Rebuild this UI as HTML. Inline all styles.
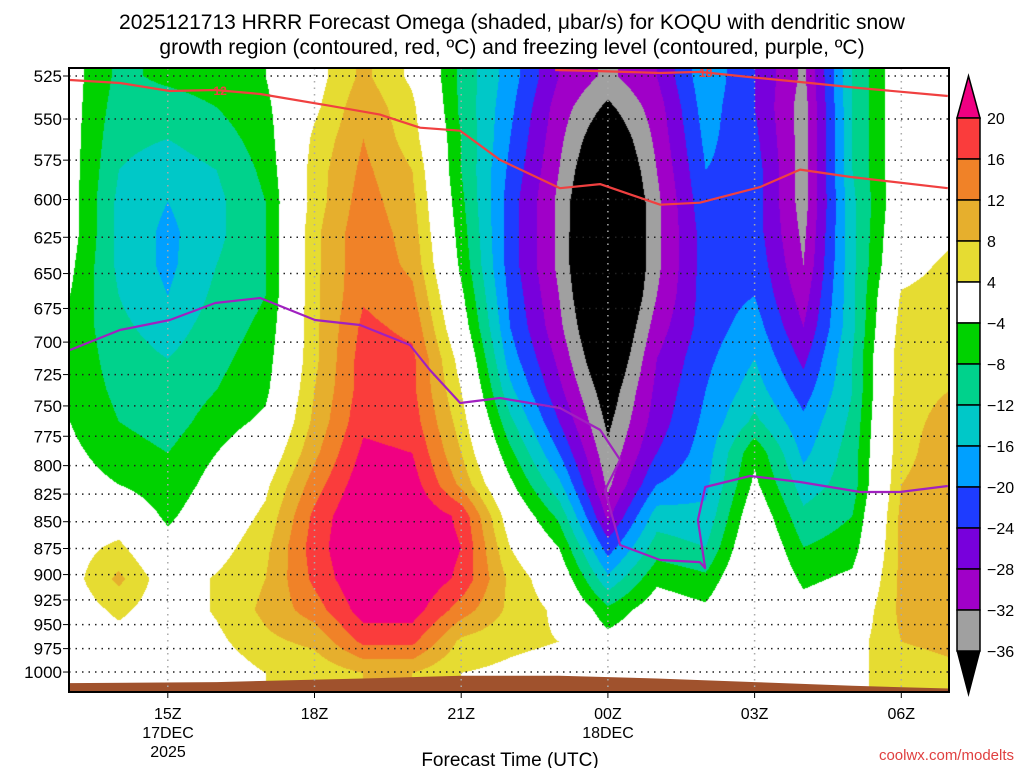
<!DOCTYPE html>
<html><head><meta charset="utf-8"><style>
html,body{margin:0;padding:0;background:#fff;width:1024px;height:768px;overflow:hidden}
#wrap{position:relative;width:1024px;height:768px;font-family:"Liberation Sans",sans-serif}
canvas{position:absolute;left:0;top:0}
svg{position:absolute;left:0;top:0}
</style></head><body>
<div id="wrap">
<canvas id="cv" width="1024" height="768"></canvas>
<svg id="sv" width="1024" height="768"></svg>
</div>
<script>
// ---- data ----
const hours = [13,14,15,16,17,18,19,20,21,22,23,0,1,2,3,4,5,6,7];
const gridPressures = [525,543.1,561.9,581.3,601.4,622.2,643.7,665.9,688.9,712.8,737.4,762.9,789.2,816.5,844.7,873.9,904.1,935.3,967.6,1001];
const tickPressures = [525,550,575,600,625,650,675,700,725,750,775,800,825,850,875,900,925,950,975,1000];
const omegaColumns = [
 [-2,-2,-2,-2,-2,-2,-3,-4,-5,-5,-5,-4,-3,-2,0,2,2,1,0,0],
 [-9,-10,-11,-12,-13,-13,-13,-12,-11,-10,-9,-8,-6,-4,1,5,9,5,2,0],
 [-7,-10,-12,-14,-16,-17,-17,-16,-14,-12,-11,-10,-8,-7,-5,-2,1,1,1,0],
 [-6,-8,-10,-12,-13,-13,-12,-11,-10,-9,-8,-6,-4,-2,0,2,4.5,4.5,3,1],
 [-4,-5,-6,-7,-8,-8,-8,-8,-7,-6,-5,-3,0,3,5,7,8,9,7,4],
 [2,3,5,6,6,7,7,7,7,7,8,9,11,14,17,18,17,14,9,5],
 [9,11,12,13,14,15,15,15.5,17,18,18,19,21,23,25,25,24,22,17,8],
 [3,5,6,8,9,10,11,13,15,17,17,18,20,22,24,24,24,22,17,8],
 [-9,-9,-8,-8,-7,-6,-5,-3,-1,2,4,6,8,11,19,20,19,14,7,4],
 [-18,-19,-20,-21,-22,-22,-22,-21,-20,-18,-15,-11,-7,-3,1,4,7,7,5,3],
 [-28,-30,-31,-32,-33,-33,-33,-32,-31,-29,-27,-24,-20,-15,-9,-4,0,3,4,2],
 [-33,-37,-41,-44,-46,-47,-47,-46,-44,-42,-39,-37,-35,-33,-29,-22,-15,-7,-2,2],
 [-28,-30,-31,-32,-33,-33,-33,-32,-30,-28,-27,-26,-24,-20,-14,-10,-5,-1,1,2],
 [-17,-18,-19,-20,-21,-22,-22,-22,-22,-21,-20,-19,-18,-17,-15,-12,-7,-3,2,3],
 [-24,-24,-23,-22,-22,-22,-21,-20,-18,-16,-14,-11,-5,-3,0,2,3,4,4,3],
 [-33,-34,-34,-34,-34,-33,-32,-30,-28,-25,-22,-19,-17,-14,-11,-8,-5,-2,1,3],
 [-12,-12,-12,-12,-13,-13,-13,-13,-13,-12,-12,-11,-10,-10,-8,-6,-3,0,2,3],
 [0,0,0,0,0,1,2,4.5,6,7,7,7,7,8,9,9,9,9,8,6],
 [0,0,0,1,2,3,5,6,7,7,8,9,10,10,10,10,10,10,9,7]
];
const levels = [-36,-32,-28,-24,-20,-16,-12,-8,-4,4,8,12,16,20];
const levelColors = ["#000000","#a0a0a0","#a000c8","#7800dc","#1e3cff","#00a0ff","#00c8c8","#00d28c","#00d200","#ffffff","#e6dc32","#e6af2d","#f08228","#fa3c3c","#f00082"];
const colorbarLabels = ["20","16","12","8","4","\u22124","\u22128","\u221212","\u221216","\u221220","\u221224","\u221228","\u221232","\u221236"];
// contour lines: hours since 13Z, pressure (hPa)
const red12Hours = [0,1.02,2.04,2.97,3.89,5.32,6.34,7.16,7.98,8.79,10.02,10.84,12.07,12.88,14.11,14.93,15.95,17.95];
const red12Press = [527.3,529.0,533.6,533.0,535.3,542.2,547.4,555.2,557.0,574.8,592.7,590.1,603.4,602.1,592.0,580.9,585.5,592.7];
const red18Hours = [9.92,10.84,12.07,12.88,13.91,14.93,16.16,17.95];
const red18Press = [521.6,522.2,523.3,522.7,525.6,528.4,531.9,536.5];
const frzHours = [0,1.02,2.04,2.97,3.89,5.01,5.93,6.95,7.36,7.98,8.79,10.02,10.84,11.25,10.94,11.25,12.07,12.88,12.99,12.84,12.99,13.91,14.93,16.16,16.97,17.95];
const frzPress = [706.0,690.9,683.5,671.0,667.4,683.5,687.2,702.2,721.4,747.6,743.6,751.7,769.7,795.1,821.4,871.7,885.9,887.9,893.7,848.5,818.7,809.0,814.3,823.1,823.1,817.8];
const terrainHours = [0,3,6,8,10,12,14,16,18];
const terrainPress = [1012,1011,1007,1004,1004,1007,1011,1015,1018];
const xTickHours = [2,5,8,11,14,17];
const xTickLabels = ["15Z","18Z","21Z","00Z","03Z","06Z"];

// ---- axes (log-pressure) ----
const X0=69,X1=949,Y0=68,Y1=692;
const xOf = h => 70 + h*48.9;
const yOf = p => 76 + 925*Math.log(p/525);
const hOf = x => (x-70)/48.9;
const pOf = y => 525*Math.exp((y-76)/925);

const cv=document.getElementById('cv'),ctx=cv.getContext('2d');
const img=ctx.createImageData(X1-X0,Y1-Y0);
function hexRGB(c){return [parseInt(c.substr(1,2),16),parseInt(c.substr(3,2),16),parseInt(c.substr(5,2),16)];}
const rgbCache=levelColors.map(hexRGB);
const nP=gridPressures.length;
for(let py=Y0;py<Y1;py++){
  let p=pOf(py+0.5);
  let j,tj;
  if(p<=gridPressures[0]){j=0;tj=0;}
  else if(p>=gridPressures[nP-1]){j=nP-2;tj=1;}
  else{j=0;while(gridPressures[j+1]<p)j++;tj=(p-gridPressures[j])/(gridPressures[j+1]-gridPressures[j]);}
  for(let px=X0;px<X1;px++){
    let fh=hOf(px+0.5); fh=Math.max(0,Math.min(hours.length-1.0001,fh));
    const i=Math.floor(fh),ti=fh-i;
    const a=omegaColumns[i][j],b=omegaColumns[i+1][j],c=omegaColumns[i][j+1],d=omegaColumns[i+1][j+1];
    const v=(a*(1-ti)+b*ti)*(1-tj)+(c*(1-ti)+d*ti)*tj;
    let k=0;while(k<levels.length && v>=levels[k]) k++;
    const col=rgbCache[k];const o=((py-Y0)*(X1-X0)+(px-X0))*4;
    img.data[o]=col[0];img.data[o+1]=col[1];img.data[o+2]=col[2];img.data[o+3]=255;
  }
}
ctx.putImageData(img,X0,Y0);

const NS="http://www.w3.org/2000/svg";
const sv=document.getElementById('sv');
function mk(tag,attrs,parent){const e=document.createElementNS(NS,tag);for(const k in attrs)e.setAttribute(k,attrs[k]);(parent||sv).appendChild(e);return e;}
function txt(s,attrs){const e=mk('text',attrs);e.textContent=s;return e;}

// terrain
let tp="M"+X0+","+Y1;
terrainHours.forEach((h,i)=>{tp+=" L"+Math.max(X0,Math.min(X1,xOf(h)))+","+Math.min(Y1,yOf(terrainPress[i])).toFixed(1);});
tp+=" L"+X1+","+Y1+" Z";
const terr=mk('path',{d:tp,fill:"#a0522d"});



// grid
tickPressures.forEach(p=>{
  const g=mk('line',{x1:X0,x2:X1,y1:yOf(p),y2:yOf(p),stroke:"#222","stroke-width":1.5,"stroke-dasharray":"1.5 5"});
  
  
  mk('line',{x1:X0-6,x2:X0,y1:yOf(p),y2:yOf(p),stroke:"#000","stroke-width":1});
  const t=txt(String(p),{x:X0-7,y:yOf(p)+6,"text-anchor":"end","font-size":17,fill:"#000"});
  
  
});
xTickHours.forEach((h,i)=>{
  const x=xOf(h);
  const g=mk('line',{x1:x,x2:x,y1:Y0,y2:Y1,stroke:"#aaa","stroke-width":1.5,"stroke-dasharray":"1.5 5"});
  
  
  mk('line',{x1:x,x2:x,y1:Y1,y2:Y1+6,stroke:"#000"});
  const t=txt(xTickLabels[i],{x:x,y:719,"text-anchor":"middle","font-size":16});
  
  
});

function line(hs,ps,color,name){
  const d=hs.map((h,i)=>(i?"L":"M")+xOf(h).toFixed(1)+","+yOf(ps[i]).toFixed(1)).join(" ");
  const e=mk('path',{d:d,fill:"none",stroke:color,"stroke-width":2.2,"stroke-linejoin":"round"});
  
  
}
line(red12Hours,red12Press,"#f04040","dendritic-12c-contour");
line(red18Hours,red18Press,"#f04040","dendritic-18c-contour");
line(frzHours,frzPress,"#a020c0","freezing-level-contour");
const l12=txt("12",{x:xOf(3.07),y:yOf(533)+5,"text-anchor":"middle","font-size":12,"font-weight":"bold",fill:"#f04040"});


const l18=txt("18",{x:xOf(13.0),y:yOf(522.7)+5,"text-anchor":"middle","font-size":12,"font-weight":"bold",fill:"#f04040"});



// frame
const fr=mk('rect',{x:X0,y:Y0,width:X1-X0,height:Y1-Y0,fill:"none",stroke:"#000","stroke-width":2});



// colorbar
const CBX=957,CBW=23,CBT=118,CBS=41;
const cbg=mk('g',{});


mk('polygon',{points:`${CBX},${CBT} ${CBX+CBW},${CBT} ${CBX+CBW/2},76`,fill:levelColors[14],stroke:"#000","stroke-width":1.5},cbg);
for(let k=0;k<13;k++){
  mk('rect',{x:CBX,y:CBT+k*CBS,width:CBW,height:CBS,fill:levelColors[13-k],stroke:"#000","stroke-width":1.5},cbg);
}
mk('polygon',{points:`${CBX},${CBT+13*CBS} ${CBX+CBW},${CBT+13*CBS} ${CBX+CBW/2},695`,fill:"#000",stroke:"#000"},cbg);
colorbarLabels.forEach((s,k)=>{
  const t=txt(s,{x:987,y:CBT+k*CBS+6,"font-size":16});
  
  
});
</script>
<svg width="1024" height="768" style="position:absolute;left:0;top:0;pointer-events:none">
<g font-family="Liberation Sans, sans-serif" fill="#000">
<text x="512" y="29" font-size="21" text-anchor="middle">2025121713 HRRR Forecast Omega (shaded, μbar/s) for KOQU with dendritic snow</text>
<text x="512" y="54" font-size="21" text-anchor="middle">growth region (contoured, red, ºC) and freezing level (contoured, purple, ºC)</text>
<text x="168" y="738" font-size="16" text-anchor="middle">17DEC</text>
<text x="168" y="757" font-size="16" text-anchor="middle">2025</text>
<text x="608" y="738" font-size="16" text-anchor="middle">18DEC</text>
<text x="510" y="766" font-size="19" text-anchor="middle">Forecast Time (UTC)</text>
<text x="1014" y="760" font-size="15" text-anchor="end" fill="#e04040">coolwx.com/modelts</text>
</g></svg>
</body></html>
